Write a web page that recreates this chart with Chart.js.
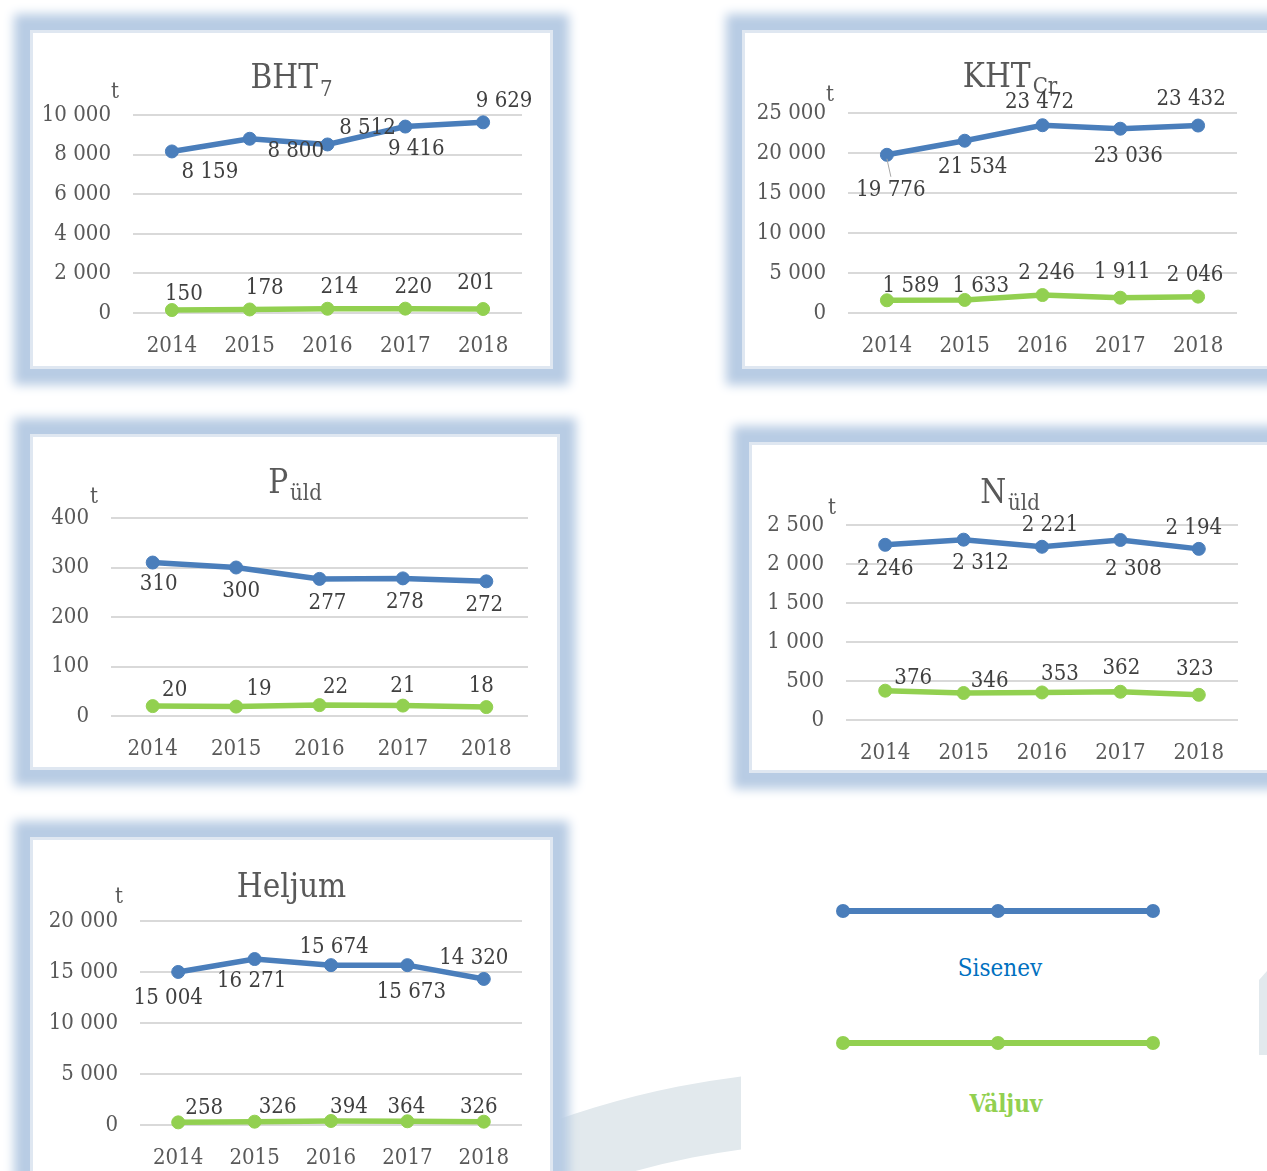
<!DOCTYPE html>
<html>
<head>
<meta charset="utf-8">
<script src="https://cdn.jsdelivr.net/npm/chart.js@4.4.1/dist/chart.umd.min.js"></script>
<style>
  html,body{margin:0;padding:0;background:#fff;}
  body{position:relative;width:1267px;height:1171px;overflow:hidden;font-family:"DejaVu Serif Condensed","DejaVu Serif",serif;}
  .panel{position:absolute;background:#fff;box-shadow:0 0 0 3px #dfe7f1,0 0 10px 19px #b8cce4;z-index:2;}
  .panel canvas{position:absolute;left:0;top:0;}
  #deco{position:absolute;left:0;top:0;z-index:1;}
  .lg{position:absolute;z-index:3;}
  .lgline{position:absolute;height:6px;}
  .lgdot{position:absolute;width:14px;height:14px;border-radius:50%;}
  .lgtext{position:absolute;font-size:24px;transform:translate(-50%,-50%);white-space:nowrap;}
</style>
</head>
<body>
<svg id="deco" width="1267" height="1171">
  <defs><clipPath id="cl"><rect x="0" y="0" width="741" height="1171"/></clipPath></defs>
  <path clip-path="url(#cl)" fill="#e2e9ed" fill-rule="evenodd"
    d="M -30 1950 A 880 880 0 1 1 1730 1950 A 880 880 0 1 1 -30 1950 Z M 42 1950 A 808 808 0 1 0 1658 1950 A 808 808 0 1 0 42 1950 Z"/>
  <polygon fill="#e2e9ed" points="1259,980 1267,971 1267,1055 1259,1055"/>
</svg>

<div class="panel" style="left:33px;top:33px;width:517px;height:333px"><canvas id="c1" width="517" height="333"></canvas></div>
<div class="panel" style="left:745px;top:33px;width:530px;height:333px"><canvas id="c2" width="530" height="333"></canvas></div>
<div class="panel" style="left:33px;top:437px;width:524px;height:330px"><canvas id="c3" width="524" height="330"></canvas></div>
<div class="panel" style="left:752px;top:445px;width:516px;height:325px"><canvas id="c4" width="516" height="325"></canvas></div>
<div class="panel" style="left:33px;top:840px;width:517px;height:360px"><canvas id="c5" width="517" height="360"></canvas></div>

<div class="lgline lg" style="left:843px;top:908px;width:310px;background:#4A7EBB"></div>
<div class="lgdot lg" style="left:836px;top:904px;background:#4A7EBB"></div>
<div class="lgdot lg" style="left:991px;top:904px;background:#4A7EBB"></div>
<div class="lgdot lg" style="left:1146px;top:904px;background:#4A7EBB"></div>
<div class="lgtext lg" style="left:1000px;top:968px;color:#0070C0">Sisenev</div>
<div class="lgline lg" style="left:843px;top:1040px;width:310px;background:#92D050"></div>
<div class="lgdot lg" style="left:836px;top:1036px;background:#92D050"></div>
<div class="lgdot lg" style="left:991px;top:1036px;background:#92D050"></div>
<div class="lgdot lg" style="left:1146px;top:1036px;background:#92D050"></div>
<div class="lgtext lg" style="left:1006px;top:1103px;color:#92D050;font-weight:bold">Väljuv</div>

<script>
// ---------------- DATA ----------------
const years = ['2014', '2015', '2016', '2017', '2018'];
const seriesNames = ['Sisenev', 'Väljuv'];

const bhtIn  = [8159, 8800, 8512, 9416, 9629];
const bhtOut = [150, 178, 214, 220, 201];

const khtIn  = [19776, 21534, 23472, 23036, 23432];
const khtOut = [1589, 1633, 2246, 1911, 2046];

const pIn  = [310, 300, 277, 278, 272];
const pOut = [20, 19, 22, 21, 18];

const nIn  = [2246, 2312, 2221, 2308, 2194];
const nOut = [376, 346, 353, 362, 323];

const hIn  = [15004, 16271, 15674, 15673, 14320];
const hOut = [258, 326, 394, 364, 326];

// ---------------- HELPERS ----------------
const FONT = '"DejaVu Serif Condensed", "DejaVu Serif", serif';
const BLUE = '#4A7EBB', GREEN = '#92D050';
const fmt = v => String(v).replace(/\B(?=(\d{3})+(?!\d))/g, ' ');

const annotPlugin = {
  id: 'annot',
  afterDatasetsDraw(chart, args, o) {
    const ctx = chart.ctx;
    const ca = chart.chartArea;
    ctx.save();
    ctx.fillStyle = '#595959';
    ctx.textBaseline = 'alphabetic';
    ctx.textAlign = 'left';
    ctx.font = '33px ' + FONT;
    const mw = ctx.measureText(o.title).width;
    ctx.font = '22px ' + FONT;
    const sw = o.sub ? ctx.measureText(o.sub).width + 2 : 0;
    const x0 = chart.width / 2 - (mw + sw) / 2;
    ctx.font = '33px ' + FONT;
    ctx.fillText(o.title, x0, o.titleY);
    if (o.sub) {
      ctx.font = '22px ' + FONT;
      ctx.fillText(o.sub, x0 + mw + 2, o.titleY + o.subDy);
    }
    ctx.font = '22px ' + FONT;
    ctx.textAlign = 'center';
    ctx.textBaseline = 'middle';
    ctx.fillText('t', ca.left + o.unit[0], ca.top + o.unit[1]);
    (o.leaders || []).forEach(([di, pi, x1, y1, x2, y2]) => {
      const p = chart.getDatasetMeta(di).data[pi];
      ctx.strokeStyle = '#a6a6a6';
      ctx.lineWidth = 1;
      ctx.beginPath();
      ctx.moveTo(p.x + x1, p.y + y1);
      ctx.lineTo(p.x + x2, p.y + y2);
      ctx.stroke();
    });
    ctx.fillStyle = '#404040';
    chart.data.datasets.forEach((ds, i) => {
      const meta = chart.getDatasetMeta(i);
      meta.data.forEach((pt, j) => {
        const off = o.offsets[i][j];
        ctx.fillText(fmt(ds.data[j]), pt.x + off[0], pt.y + off[1]);
      });
    });
    ctx.restore();
  }
};

function makeChart(id, inData, outData, cfg) {
  const canvas = document.getElementById(id);
  const W = canvas.width, H = canvas.height;
  const ds = (label, data, color) => ({
    label, data,
    borderColor: color, backgroundColor: color,
    pointBackgroundColor: color, pointBorderColor: color,
    borderWidth: 5.5, pointRadius: 6.5, pointHoverRadius: 6.5, pointBorderWidth: 1,
    tension: 0, clip: false
  });
  return new Chart(canvas, {
    type: 'line',
    data: {
      labels: years,
      datasets: [ds(seriesNames[0], inData, BLUE), ds(seriesNames[1], outData, GREEN)]
    },
    plugins: [annotPlugin],
    options: {
      responsive: false,
      animation: false,
      events: [],
      layout: { padding: { left: 0, top: cfg.area.top, right: W - cfg.area.right, bottom: 0 } },
      plugins: {
        legend: { display: false },
        title: { display: false },
        tooltip: { enabled: false },
        annot: cfg.annot
      },
      scales: {
        x: {
          type: 'category',
          offset: true,
          grid: { display: false, drawTicks: false },
          border: { display: false },
          ticks: { color: '#595959', font: { family: FONT, size: 22 }, padding: 20, maxRotation: 0, autoSkip: false },
          afterFit: s => { s.height = H - cfg.area.bottom; }
        },
        y: {
          min: 0, max: cfg.max,
          grid: { color: '#d9d9d9', lineWidth: 2, drawTicks: false },
          border: { display: false },
          ticks: { stepSize: cfg.step, color: '#595959', font: { family: FONT, size: 22 }, padding: 22,
                   callback: v => fmt(v) },
          afterFit: s => { s.width = cfg.area.left; }
        }
      }
    }
  });
}

makeChart('c1', bhtIn, bhtOut, {
  max: 10000, step: 2000,
  area: { left: 100, top: 82, right: 489, bottom: 280 },
  annot: {
    title: 'BHT', sub: '7', titleY: 55, subDy: 8, unit: [-18, -23],
    offsets: [
      [[38, 21], [46, 13], [40, -16], [11, 23], [21, -21]],
      [[12, -16], [15, -21], [12, -21], [8, -21], [-7, -26]]
    ]
  }
});

makeChart('c2', khtIn, khtOut, {
  max: 25000, step: 5000,
  area: { left: 103, top: 80, right: 492, bottom: 280 },
  annot: {
    title: 'KHT', sub: 'Cr', titleY: 54, subDy: 6, unit: [-18, -18],
    leaders: [[0, 0, 0, 4, 4, 22]],
    offsets: [
      [[4, 35], [8, 27], [-3, -23], [8, 28], [-7, -26]],
      [[24, -14], [16, -14], [4, -22], [2, -25], [-3, -21]]
    ]
  }
});

makeChart('c3', pIn, pOut, {
  max: 400, step: 100,
  area: { left: 78, top: 81, right: 495, bottom: 279 },
  annot: {
    title: 'P', sub: 'üld', titleY: 56, subDy: 7, unit: [-17, -21],
    offsets: [
      [[6, 22], [5, 24], [8, 24], [2, 24], [-2, 24]],
      [[22, -16], [23, -17], [16, -18], [0, -19], [-5, -21]]
    ]
  }
});

makeChart('c4', nIn, nOut, {
  max: 2500, step: 500,
  area: { left: 94, top: 80, right: 486, bottom: 275 },
  annot: {
    title: 'N', sub: 'üld', titleY: 58, subDy: 7, unit: [-14, -17],
    offsets: [
      [[0, 24], [17, 24], [8, -21], [13, 29], [-5, -21]],
      [[28, -12], [26, -12], [18, -18], [1, -23], [-4, -26]]
    ]
  }
});

makeChart('c5', hIn, hOut, {
  max: 20000, step: 5000,
  area: { left: 107, top: 81, right: 489, bottom: 285 },
  annot: {
    title: 'Heljum', sub: '', titleY: 57, subDy: 0, unit: [-21, -24],
    offsets: [
      [[-10, 26], [-3, 22], [3, -18], [4, 27], [-10, -21]],
      [[26, -14], [23, -14], [18, -14], [-1, -14], [-5, -14]]
    ]
  }
});
</script>
</body>
</html>
